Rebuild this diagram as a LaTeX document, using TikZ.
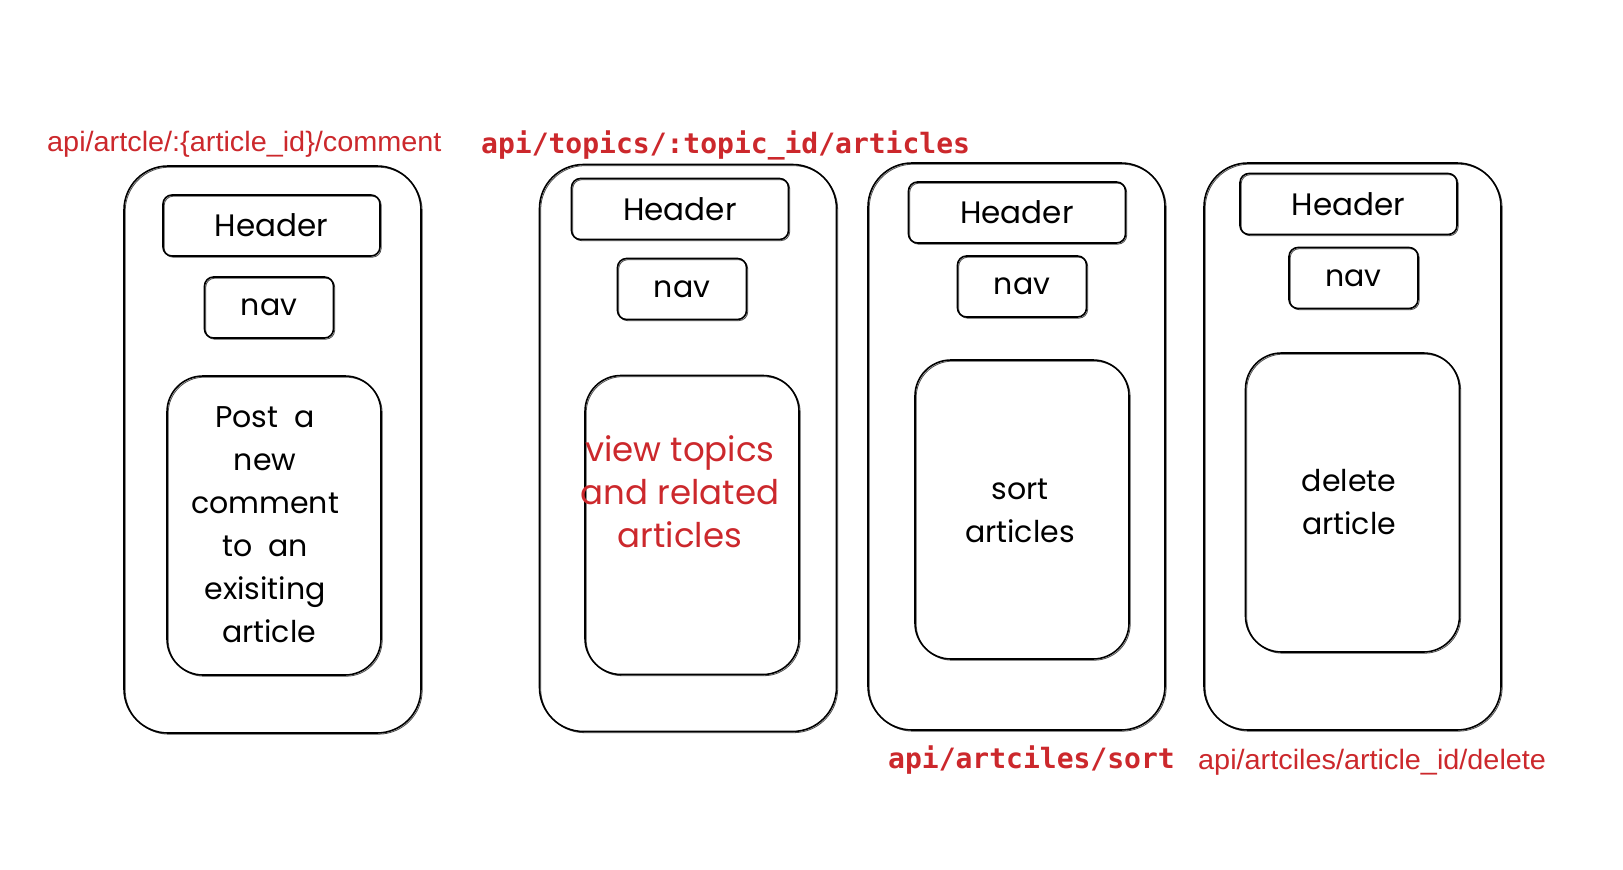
\documentclass[tikz,border=0pt]{standalone}
\usepackage{fontspec}
\setmainfont{Poppins}
\newfontfamily\apisans[FakeStretch=1.03]{Liberation Sans}
\newfontfamily\apimono{DejaVu Sans Mono}
\definecolor{exred}{RGB}{204,40,44}
\begin{document}
\begin{tikzpicture}[x=1pt,y=-1pt,
  sk/.style={draw=black, line width=1.6pt, inner sep=0pt,
    preaction={draw=black!70, line width=0.8pt, transform canvas={shift={(1.2pt,-1.2pt)}}}},
  phone/.style={sk, rounded corners=44pt, minimum width=297pt, minimum height=567pt},
  hdr/.style={sk, rounded corners=9pt, minimum width=217pt, minimum height=61pt, font=\fontsize{31}{36}\selectfont},
  navbox/.style={sk, rounded corners=9pt, minimum width=129pt, minimum height=61pt, font=\fontsize{30}{36}\selectfont},
  content/.style={sk, rounded corners=36pt, minimum width=214pt, minimum height=299pt},
  hand/.style={align=center, font=\fontsize{30}{43}\selectfont, inner sep=0pt},
  apil/.style={text=exred, anchor=west, inner sep=0pt, font=\apisans\fontsize{28}{32}\selectfont},
  apim/.style={text=exred, anchor=west, inner sep=0pt, font=\apimono\bfseries\fontsize{28}{32}\selectfont}
]
\useasboundingbox[fill=white] (0,0) rectangle (1623,870);

% phone 1
\node[phone] (p1) at (272.5,449.5) {};
\node[hdr] (h1) at (271.5,225.5) {Header};
\node[navbox] (n1) at (269,307.5) {nav};
\node[content] (c1) at (274,525.5) {};
\node[hand] (t1) at (265,525) {Post\ \ a\\new\\comment\\to\ \ an\\exisiting\\\ article};

% phone 2
\node[phone] (p2) at (688,448) {};
\node[hdr] (h2) at (680,209) {Header};
\node[navbox] (n2) at (682,289) {nav};
\node[content] (c2) at (692,525) {};
\node[hand, text=exred, font=\fontsize{34}{43}\selectfont] (t2) at (680,492) {view topics\\and related\\articles};

% phone 3
\node[phone] (p3) at (1016.5,446.5) {};
\node[hdr] (h3) at (1017,212.5) {Header};
\node[navbox] (n3) at (1022,286.5) {nav};
\node[content] (c3) at (1022,509.5) {};
\node[hand] (t3) at (1020,511) {sort\\articles};

% phone 4
\node[phone] (p4) at (1352.5,446.5) {};
\node[hdr] (h4) at (1348.5,204) {Header};
\node[navbox] (n4) at (1353.5,278) {nav};
\node[content] (c4) at (1352.5,502.5) {};
\node[hand] (t4) at (1349,502) {delete\\article};

% labels
\node[apil] (l1) at (47,144) {api/artcle/:\{article\_id\}/comment};
\node[apim] (l2) at (481,145) {api/topics/:topic\_id/articles};
\node[apim] (l3) at (888,760) {api/artciles/sort};
\node[apil] (l4) at (1198,762) {api/artciles/article\_id/delete};
\end{tikzpicture}
\end{document}
